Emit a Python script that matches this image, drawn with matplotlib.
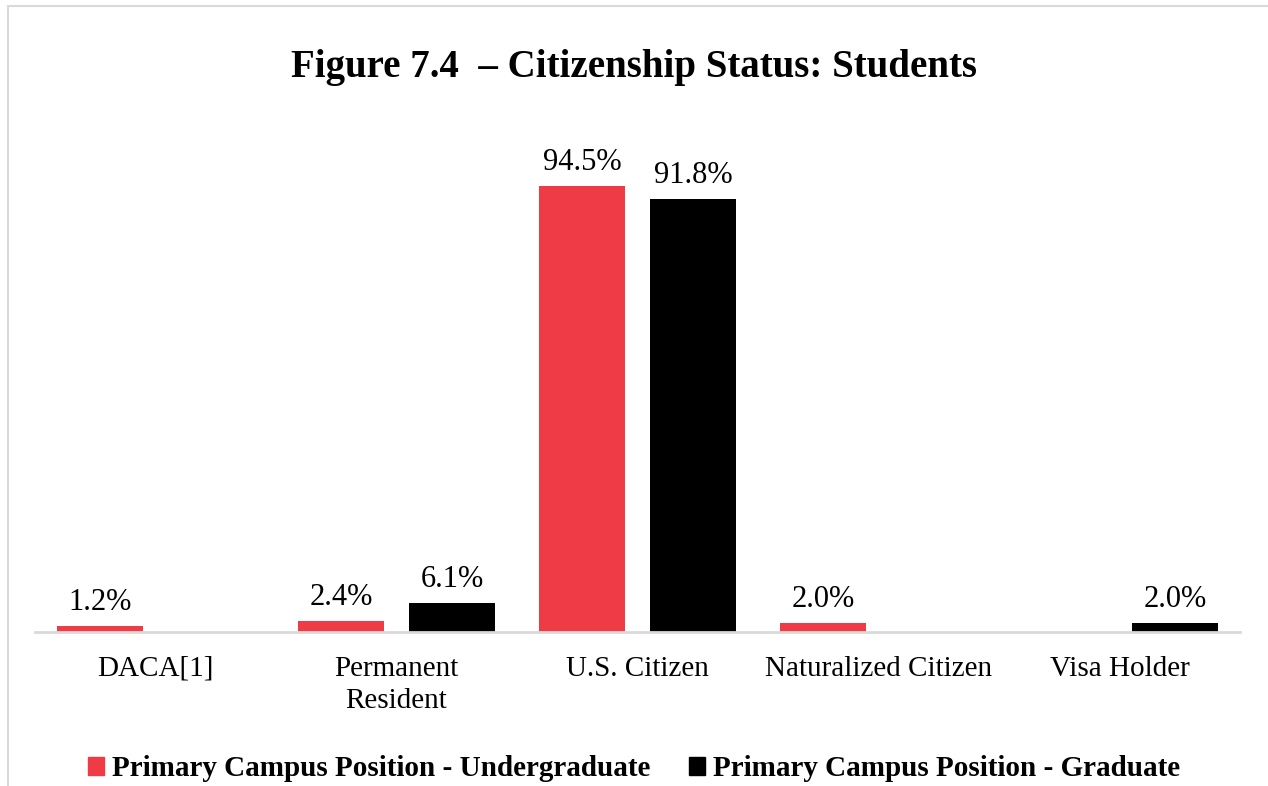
import matplotlib
matplotlib.use("Agg")
import matplotlib.pyplot as plt
from matplotlib.patches import Rectangle, Patch
import numpy as np

categories = ["DACA[1]", "Permanent\nResident", "U.S. Citizen", "Naturalized Citizen", "Visa Holder"]
undergrad = [1.2, 2.4, 94.5, 2.0, None]
graduate = [None, 6.1, 91.8, None, 2.0]
series_names = ["Primary Campus Position - Undergraduate", "Primary Campus Position - Graduate"]
title = "Figure 7.4  \u2013 Citizenship Status: Students"

RED = "#EF3B46"
BLACK = "#000000"
FONT = "Liberation Serif"

W, H = 1268, 786
fig = plt.figure(figsize=(W / 100, H / 100), dpi=100)

# outer frame
fig.patches.append(Rectangle((8 / W, -0.1), 1.2, (H - 6) / H + 0.1, transform=fig.transFigure,
                             fill=False, edgecolor="#d9d9d9", linewidth=1.5))

ax = fig.add_axes([35 / W, 154 / H, (1240 - 35) / W, 472 / H])
x = np.arange(len(categories))
off, bw = 0.23, 0.36
for i in range(len(categories)):
    for vals, sign, col in ((undergrad, -1, RED), (graduate, 1, BLACK)):
        v = vals[i]
        if v is None:
            continue
        ax.bar(x[i] + sign * off, v, width=bw, color=col)
        ax.text(x[i] + sign * off, v + 1.9, f"{v:.1f}%", ha="center", va="bottom",
                fontsize=22, family=FONT)

ax.set_xlim(-0.5, len(categories) - 0.5)
ax.set_ylim(0, 100)
for s in ["top", "right", "left"]:
    ax.spines[s].set_visible(False)
ax.spines["bottom"].set_color("#d9d9d9")
ax.spines["bottom"].set_linewidth(2)
ax.set_yticks([])
ax.set_xticks(x)
ax.set_xticklabels(categories, fontsize=21, family=FONT, linespacing=1.3)
ax.tick_params(axis="x", length=0, pad=17)

fig.text(0.5, 1 - 67 / H, title, ha="center", va="center", fontsize=28, fontweight="bold", family=FONT)

handles = [Patch(color=RED), Patch(color=BLACK)]
fig.legend(handles, series_names, loc="center", bbox_to_anchor=(0.5, 1 - 769 / H), ncol=2,
           frameon=False, prop={"family": FONT, "weight": "bold", "size": 21},
           handlelength=0.55, handleheight=0.55, handletextpad=0.3, columnspacing=1.3)

fig.savefig("out.png", dpi=100)
